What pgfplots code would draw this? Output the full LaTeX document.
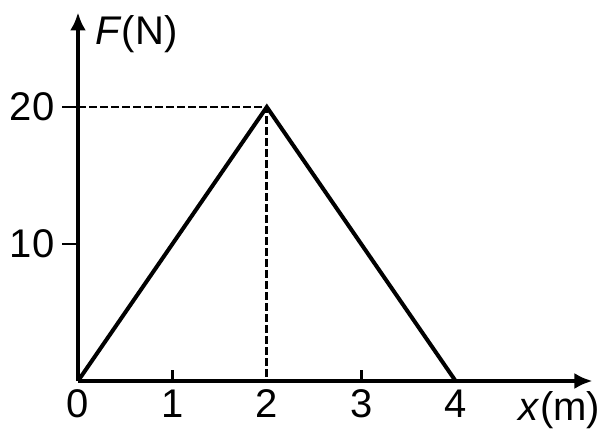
\documentclass[border=0pt]{standalone}
\usepackage{fontspec}
\setmainfont{Liberation Sans}
\usepackage{pgfplots}
\pgfplotsset{compat=1.18}
\usetikzlibrary{arrows.meta}

\begin{document}
\begin{tikzpicture}
  \fontsize{20}{24}\selectfont
  \begin{axis}[
    x=47.2pt, y=6.85pt,
    xmin=0, xmax=5.45,
    ymin=0, ymax=26.9,
    axis lines=left,
    axis line style={black, line width=2.4pt, -{Latex[length=9pt,width=8pt]}},
    xtick={0,1,2,3,4},
    ytick={10,20},
    xticklabel style={yshift=10.5pt},
    yticklabel style={xshift=3pt},
    tick style={black, line width=1.4pt},
    major tick length=8pt,
    tick align=outside,
    xtick style={/pgfplots/major tick length=0pt},
    /pgf/number format/assume math mode=true,
    ticklabel style={font=\fontsize{20}{24}\selectfont},
    clip=false,
  ]
    \coordinate (O) at (axis cs:0,0);

    % small upward ticks on the x axis
    \addplot[black, line width=1.4pt, forget plot] coordinates {(1,0) (1,0.8)};
    \addplot[black, line width=1.4pt, forget plot] coordinates {(3,0) (3,0.8)};

    % dashed guides to the peak
    \addplot[black, line width=1.4pt, dash pattern=on 4pt off 1.5pt] coordinates {(0,20) (2,20) (2,0)};

    % force vs position
    \addplot[black, line width=2pt] coordinates {(0,0) (2,20) (4,0)};

    \node[anchor=center] at (axis cs:0.62,25.3) {\textit{F}(N)};
    \node[anchor=center] at (axis cs:5.1,-2.1) {\textit{x}(m)};
  \end{axis}
  % page frame matching the reference margins
  \pgfresetboundingbox
  \path ([shift={(-39pt,-30.5pt)}]O) rectangle ([shift={(262.5pt,190.5pt)}]O);
\end{tikzpicture}
\end{document}
